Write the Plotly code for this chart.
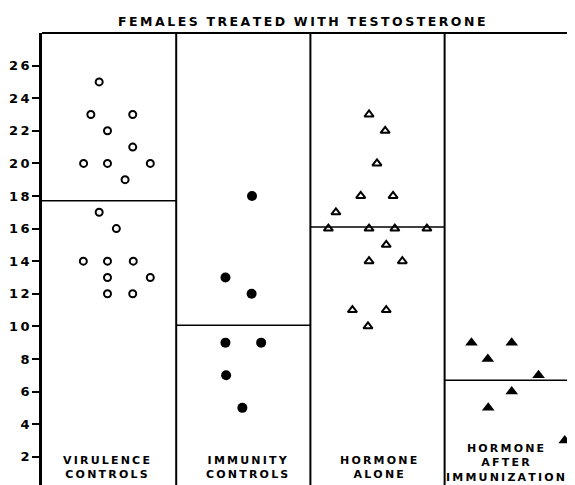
import plotly.graph_objects as go

# ---- data ----
groups = ["VIRULENCE<br>CONTROLS", "IMMUNITY<br>CONTROLS", "HORMONE<br>ALONE",
          "HORMONE<br>AFTER<br>IMMUNIZATION"]
label_x = [0.482, 1.531, 2.504, 3.45]
label_y = [1.31, 1.31, 1.31, 1.64]

vir_x = [0.426, 0.364, 0.676, 0.488, 0.676, 0.310, 0.488, 0.807, 0.619, 0.426,
         0.554, 0.308, 0.488, 0.680, 0.488, 0.807, 0.488, 0.676]
vir_y = [25, 23, 23, 22, 21, 20, 20, 20, 19, 17, 16, 14, 14, 14, 13, 13, 12, 12]

imm_x = [1.565, 1.367, 1.562, 1.367, 1.633, 1.372, 1.493]
imm_y = [18, 13, 12, 9, 9, 7, 5]

hor_x = [2.437, 2.557, 2.496, 2.375, 2.616, 2.190, 2.134, 2.437, 2.629, 2.868,
         2.565, 2.437, 2.685, 2.313, 2.565, 2.429]
hor_y = [23, 22, 20, 18, 18, 17, 16, 16, 16, 16, 15, 14, 14, 11, 11, 10]

aft_x = [3.200, 3.500, 3.322, 3.700, 3.500, 3.325, 3.895]
aft_y = [9, 9, 8, 7, 6, 5, 3]

mean_values = [17.7, 10.07, 16.09, 6.7]
panel_edges = [0, 1, 2, 3, 4]

y_ticks = [2, 4, 6, 8, 10, 12, 14, 16, 18, 20, 22, 24, 26]
y_ticktext = ["\u20092", "\u20094", "\u20096", "\u20098", "1\u20090", "1\u20092", "1\u20094",
              "1\u20096", "1\u20098", "2\u20090", "2\u20092", "2\u20094", "2\u20096"]

title_words = ["FEMALES", "TREATED", "WITH", "TESTOSTERONE"]


def spaced(s):
    return "\u2009".join(s)


title = "\u00a0 ".join(spaced(w) for w in title_words)
group_text = ["<br>".join(spaced(part) for part in g.split("<br>")) for g in groups]

fig = go.Figure()

# mean lines per panel
for i, m in enumerate(mean_values):
    fig.add_trace(go.Scatter(x=[panel_edges[i], panel_edges[i + 1]], y=[m, m],
                             mode="lines", line=dict(color="black", width=1.5),
                             hoverinfo="skip", showlegend=False))

fig.add_trace(go.Scatter(x=vir_x, y=vir_y, mode="markers", showlegend=False,
                         marker=dict(symbol="circle-open", size=7, color="black",
                                     line=dict(width=2, color="black"))))
fig.add_trace(go.Scatter(x=imm_x, y=imm_y, mode="markers", showlegend=False,
                         marker=dict(symbol="circle", size=10, color="black")))
fig.add_trace(go.Scatter(x=hor_x, y=hor_y, mode="markers", showlegend=False,
                         marker=dict(symbol="triangle-up-open", size=8, color="black",
                                     line=dict(width=2, color="black"))))
fig.add_trace(go.Scatter(x=aft_x, y=aft_y, mode="markers", showlegend=False,
                         cliponaxis=False,
                         marker=dict(symbol="triangle-up", size=11, color="black")))

# panel dividers and top border
shapes = []
for e in panel_edges[1:4]:
    shapes.append(dict(type="line", xref="x", yref="paper", x0=e, x1=e, y0=0, y1=1,
                       line=dict(color="black", width=2)))
shapes.append(dict(type="line", xref="paper", yref="paper", x0=0, x1=1, y0=1, y1=1,
                   line=dict(color="black", width=2)))

annotations = [dict(text=title, xref="x", yref="paper", x=1.937, y=1,
                    yshift=12, showarrow=False, xanchor="center", yanchor="middle",
                    font=dict(family="DejaVu Sans", size=12.5, color="black", weight="bold"))]
for i, g in enumerate(group_text):
    annotations.append(dict(text=g, x=label_x[i], y=label_y[i], xref="x", yref="y",
                            showarrow=False, xanchor="center", yanchor="middle",
                            font=dict(family="DejaVu Sans", size=11, color="black",
                                      weight="bold")))

fig.update_layout(
    width=559, height=477,
    margin=dict(l=34, r=0, t=25, b=0),
    paper_bgcolor="white", plot_bgcolor="white",
    shapes=shapes, annotations=annotations,
    xaxis=dict(range=[0, 3.912], showticklabels=False, showgrid=False, zeroline=False,
               ticks="", showline=False),
    yaxis=dict(range=[0.266, 28], tickvals=y_ticks, ticktext=y_ticktext,
               ticks="outside", ticklen=7,
               tickwidth=1.5, tickcolor="black", showgrid=False, zeroline=False,
               showline=True, linecolor="black", linewidth=2.5,
               tickfont=dict(family="DejaVu Sans", size=13, color="black", weight="bold")),
)

fig.write_html("out.html")
